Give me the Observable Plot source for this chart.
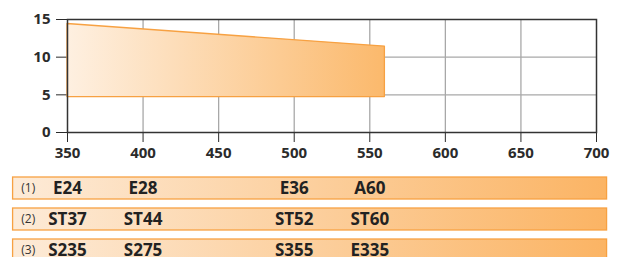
<!DOCTYPE html>
<html>
<head>
<meta charset="utf-8">
<script src="https://cdn.jsdelivr.net/npm/d3@7"></script>
<script src="https://cdn.jsdelivr.net/npm/@observablehq/plot@0.6"></script>
<style>
  body { margin: 0; background: #fff; }
  #chart svg { display: block; }
</style>
</head>
<body>
<div id="chart"></div>
<script>
// Data
const xTicks = [350, 400, 450, 500, 550, 600, 650, 700];
const yTicks = [0, 5, 10, 15];
const areaX = [350, 560];
const areaTop = [14.4, 11.4];
const areaBottom = [4.7, 4.7];

const rows = ["(1)", "(2)", "(3)"];
const gradePositions = [350, 400, 500, 550];
const grades1 = ["E24", "E28", "E36", "A60"];
const grades2 = ["ST37", "ST44", "ST52", "ST60"];
const grades3 = ["S235", "S275", "S355", "E335"];
const bandExtent = [314, 707];
const rowLabelX = 324;

const font = "'Open Sans', 'DejaVu Sans', sans-serif";
const areaData = areaX.map((x, i) => ({x, top: areaTop[i], bottom: areaBottom[i]}));
const gradeRows = [grades1, grades2, grades3];
const gradeData = gradeRows.flatMap((g, r) => g.map((label, i) => ({row: rows[r], x: gradePositions[i], label})));

const plot1 = Plot.plot({
  width: 619,
  height: 168,
  marginLeft: 67,
  marginRight: 23,
  marginTop: 19,
  marginBottom: 36,
  style: {fontFamily: font, fontSize: "15px", fontWeight: "bold", color: "#2b2b2b", background: "transparent"},
  x: {domain: [350, 700], ticks: xTicks, tickSize: 10, tickPadding: 5, label: null},
  y: {domain: [0, 15], ticks: yTicks, tickSize: 11, tickPadding: 6, label: null},
  marks: [
    Plot.ruleX(xTicks.slice(1, -1), {y1: 0, y2: 15, stroke: "#a8a8a8", strokeWidth: 1.3}),
    Plot.ruleY(yTicks.slice(1, -1), {x1: 350, x2: 700, stroke: "#a8a8a8", strokeWidth: 1.3}),
    Plot.areaY(areaData, {x: "x", y1: "bottom", y2: "top", fill: "url(#gradArea)", stroke: "#f7a142", strokeWidth: 1.3}),
    Plot.frame({stroke: "#333", strokeWidth: 1.5})
  ]
});

const plot2 = Plot.plot({
  width: 619,
  height: 89,
  marginLeft: 67,
  marginRight: 23,
  marginTop: 0,
  marginBottom: 0,
  style: {fontFamily: font, fontSize: "17px", fontWeight: "bold", color: "#222", background: "transparent"},
  x: {domain: [350, 700], axis: null},
  y: {type: "band", domain: rows, range: [8, 95], paddingInner: 0.28, paddingOuter: 0, axis: null},
  marks: [
    Plot.barX(rows, {x1: () => bandExtent[0], x2: () => bandExtent[1], y: d => d, fill: "url(#gradBand)", stroke: "#f7a142", strokeWidth: 1.3}),
    Plot.text(rows, {x: () => rowLabelX, y: d => d, text: d => d, fontSize: 12, fontWeight: "normal", fill: "#333"}),
    Plot.text(gradeData, {x: "x", y: "row", text: "label", fill: "#222", dy: 0.5})
  ]
});

function addGradient(svg, id, c0, c1) {
  const defs = d3.select(svg).insert("defs", ":first-child");
  const g = defs.append("linearGradient").attr("id", id).attr("x1", "0").attr("x2", "1").attr("y1", "0").attr("y2", "0");
  g.append("stop").attr("offset", "0").attr("stop-color", c0);
  g.append("stop").attr("offset", "1").attr("stop-color", c1);
}
addGradient(plot1, "gradArea", "#fef0e1", "#fbb96c");
addGradient(plot2, "gradBand", "#fdebd8", "#fbb464");

document.getElementById("chart").append(plot1, plot2);
</script>
</body>
</html>
